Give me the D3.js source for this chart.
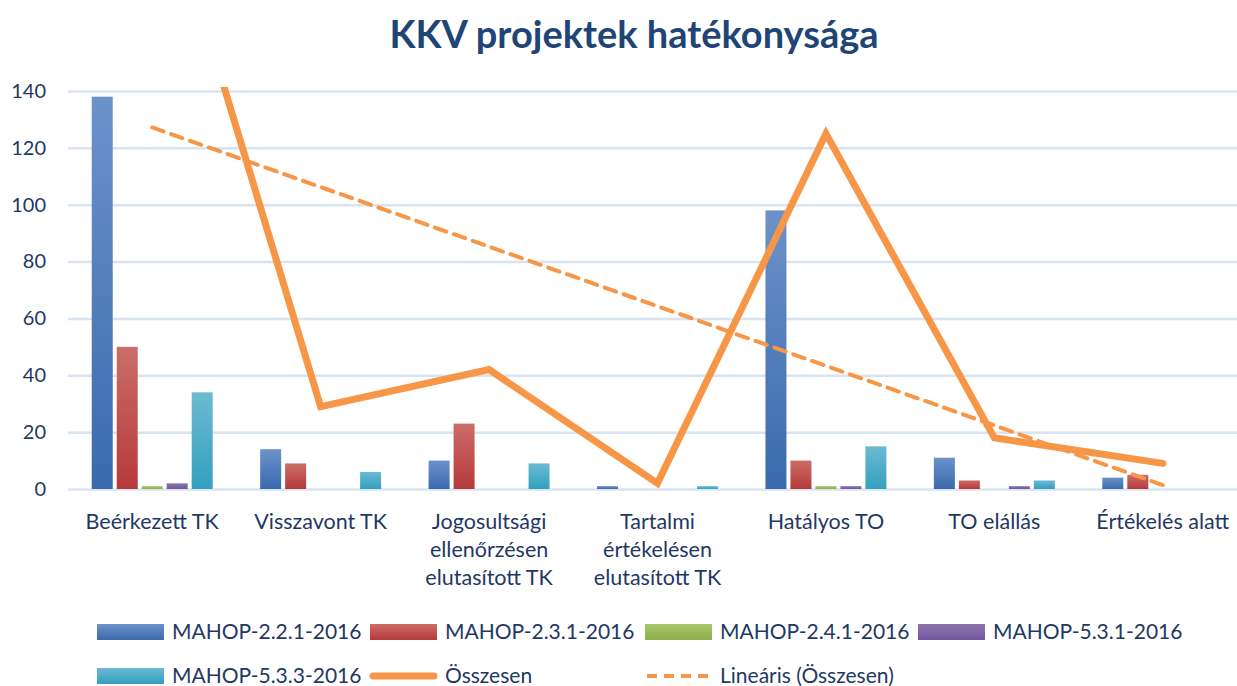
<!DOCTYPE html>
<html>
<head>
<meta charset="utf-8">
<script src="https://cdn.jsdelivr.net/npm/d3@7"></script>
<style>
  body { margin: 0; background: #fff; }
  text { font-family: Lato, "Open Sans", sans-serif; }
</style>
</head>
<body>
<svg id="chart" width="1237" height="686"></svg>
<script>
// categories (line breaks as in the chart)
var categories = [
  ["Beérkezett TK"],
  ["Visszavont TK"],
  ["Jogosultsági", "ellenőrzésen", "elutasított TK"],
  ["Tartalmi", "értékelésen", "elutasított TK"],
  ["Hatályos TO"],
  ["TO elállás"],
  ["Értékelés alatt"]
];
var seriesNames = ["MAHOP-2.2.1-2016", "MAHOP-2.3.1-2016", "MAHOP-2.4.1-2016", "MAHOP-5.3.1-2016", "MAHOP-5.3.3-2016"];
var mahop221 = [138, 14, 10, 1, 98, 11, 4];
var mahop231 = [50, 9, 23, 0, 10, 3, 5];
var mahop241 = [1, 0, 0, 0, 1, 0, 0];
var mahop531 = [2, 0, 0, 0, 1, 1, 0];
var mahop533 = [34, 6, 9, 1, 15, 3, 0];
var osszesen = [225, 29, 42, 2, 125, 18, 9];
var yTicks = [0, 20, 40, 60, 80, 100, 120, 140];

var seriesValues = [mahop221, mahop231, mahop241, mahop531, mahop533];
var colorsTop = ["#6c92c9", "#cb6d69", "#a9c66e", "#8d76ad", "#6cbad2"];
var colorsBot = ["#3a6aae", "#b6393a", "#8bae4a", "#7256a0", "#33a0bf"];
var orange = "#f79646";
var ink = "#1f3864";

var svg = d3.select("#chart");
var defs = svg.append("defs");

var plotLeft = 68, plotRight = 1247, plotTop = 91, plotBottom = 489;

var x = d3.scaleBand().domain(d3.range(categories.length)).range([plotLeft, plotRight]);
var xs = d3.scaleBand().domain(d3.range(seriesNames.length)).range([0, x.bandwidth()])
  .paddingInner(0.16).paddingOuter(0.95);
var y = d3.scaleLinear().domain([0, 140]).range([plotBottom, plotTop]);

// gradients
seriesNames.forEach(function(s, i) {
  var g = defs.append("linearGradient").attr("id", "grad" + i)
    .attr("x1", 0).attr("y1", 0).attr("x2", 0).attr("y2", 1);
  g.append("stop").attr("offset", "0%").attr("stop-color", colorsTop[i]);
  g.append("stop").attr("offset", "100%").attr("stop-color", colorsBot[i]);
});
defs.append("clipPath").attr("id", "plotClip").append("rect")
  .attr("x", 0).attr("y", plotTop - 4).attr("width", 1237).attr("height", plotBottom - plotTop + 20);

// title
svg.append("text").attr("x", 634).attr("y", 48).attr("text-anchor", "middle")
  .attr("font-size", 38).attr("font-weight", "bold").attr("fill", "#1f4577")
  .text("KKV projektek hatékonysága");

// grid + y axis
var yAxis = d3.axisLeft(y).tickValues(yTicks).tickSize(-(plotRight - plotLeft)).tickPadding(22);
var ga = svg.append("g").attr("transform", "translate(" + plotLeft + ",0)").call(yAxis);
ga.select(".domain").remove();
ga.selectAll(".tick line").attr("stroke", "#d9e4f2").attr("stroke-width", 2.5);
ga.selectAll(".tick text").attr("font-size", 20).attr("fill", ink)
  .attr("font-family", "Lato, sans-serif");

// bars
var barData = [];
seriesValues.forEach(function(vals, si) {
  vals.forEach(function(v, ci) { barData.push({ s: si, c: ci, v: v }); });
});
svg.append("g").selectAll("rect").data(barData.filter(function(d) { return d.v > 0; }))
  .enter().append("rect")
  .attr("x", function(d) { return x(d.c) + xs(d.s); })
  .attr("width", xs.bandwidth())
  .attr("y", function(d) { return y(d.v); })
  .attr("height", function(d) { return y(0) - y(d.v); })
  .attr("fill", function(d) { return "url(#grad" + d.s + ")"; });

var cx = function(d, i) { return x(i) + x.bandwidth() / 2; };

// linear trend of Összesen
var n = osszesen.length;
var mx = d3.mean(d3.range(1, n + 1)), my = d3.mean(osszesen);
var sxy = d3.sum(osszesen, function(v, i) { return (i + 1 - mx) * (v - my); });
var sxx = d3.sum(d3.range(1, n + 1), function(k) { return (k - mx) * (k - mx); });
var slope = sxy / sxx, icpt = my - slope * mx;
var trend = [0, n - 1].map(function(i) { return { i: i, v: icpt + slope * (i + 1) }; });

var plot = svg.append("g").attr("clip-path", "url(#plotClip)");
plot.append("path").datum(osszesen)
  .attr("d", d3.line().x(cx).y(function(d) { return y(d); }))
  .attr("fill", "none").attr("stroke", orange).attr("stroke-width", 7)
  .attr("stroke-linejoin", "miter").attr("stroke-linecap", "round");
plot.append("path").datum(trend)
  .attr("d", d3.line().x(function(d) { return x(d.i) + x.bandwidth() / 2; }).y(function(d) { return y(d.v); }))
  .attr("fill", "none").attr("stroke", orange).attr("stroke-width", 4)
  .attr("stroke-dasharray", "12,8").attr("stroke-linecap", "round");

// category labels
var cl = svg.append("g").selectAll("text").data(categories).enter().append("text")
  .attr("text-anchor", "middle").attr("font-size", 21.5).attr("fill", ink)
  .attr("x", cx).attr("y", 529);
cl.selectAll("tspan").data(function(d) { return d; }).enter().append("tspan")
  .attr("x", function() { return this.parentNode.getAttribute("x"); })
  .attr("dy", function(d, i) { return i === 0 ? 0 : 28; })
  .text(function(d) { return d; });

// legend
var legendItems = seriesNames.map(function(s, i) { return { name: s, type: "bar", i: i }; })
  .concat([{ name: "Összesen", type: "line" }, { name: "Lineáris (Összesen)", type: "dash" }]);
var lx = [97, 370, 645, 918], ly = [632, 676];
var lg = svg.append("g").selectAll("g").data(legendItems).enter().append("g")
  .attr("transform", function(d, i) { return "translate(" + lx[i % 4] + "," + ly[Math.floor(i / 4)] + ")"; });
lg.filter(function(d) { return d.type === "bar"; }).append("rect")
  .attr("x", 0).attr("y", -8).attr("width", 67).attr("height", 16)
  .attr("fill", function(d) { return "url(#grad" + d.i + ")"; });
lg.filter(function(d) { return d.type === "line"; }).append("line")
  .attr("x1", 3).attr("x2", 64).attr("stroke", orange).attr("stroke-width", 7).attr("stroke-linecap", "round");
lg.filter(function(d) { return d.type === "dash"; }).append("line")
  .attr("x1", 2).attr("x2", 66).attr("stroke", orange).attr("stroke-width", 4)
  .attr("stroke-dasharray", "10,7");
lg.append("text").attr("x", 75).attr("y", 7).attr("font-size", 21).attr("fill", ink)
  .text(function(d) { return d.name; });
</script>
</body>
</html>
